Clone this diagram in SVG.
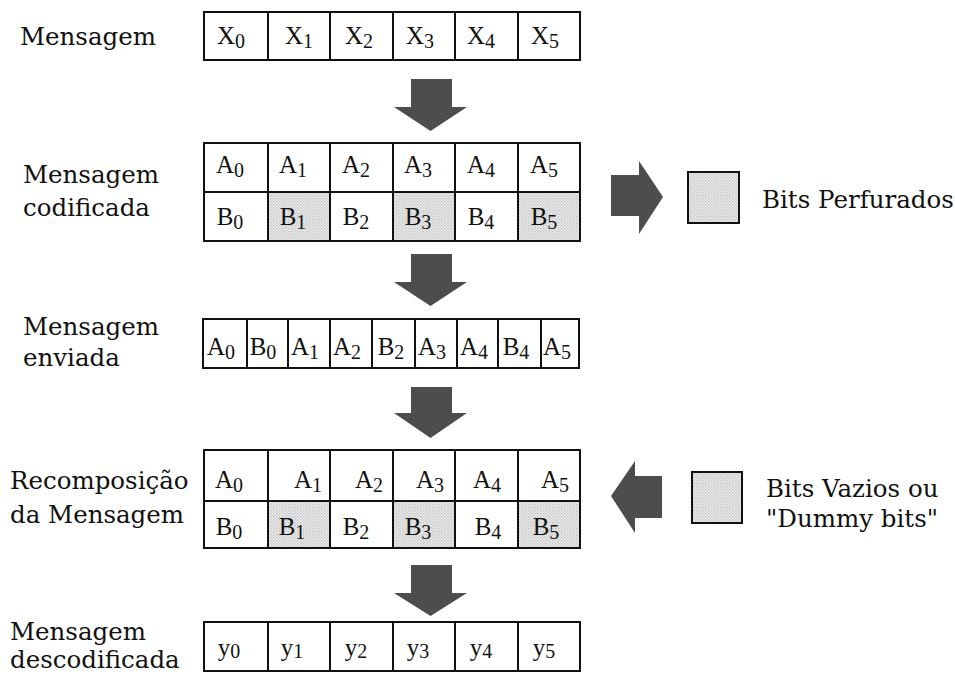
<svg xmlns="http://www.w3.org/2000/svg" width="955" height="675" viewBox="0 0 955 675">
<defs>
<pattern id="dots" width="3" height="3" patternUnits="userSpaceOnUse">
<rect width="3" height="3" fill="#ececec"/>
<rect width="1.5" height="1.5" fill="#c4c4c4"/>
<rect x="1.5" y="1.5" width="1.5" height="1.5" fill="#d2d2d2"/>
</pattern>
</defs>
<style>
.lbl{font-family:"DejaVu Serif","Liberation Serif",serif;font-size:24.5px;fill:#111}
.c{font-family:"Liberation Serif","Times New Roman",serif;font-size:25px;fill:#111;text-anchor:middle}
.c tspan.s{font-size:20px}
.box{fill:#fff;stroke:#111;stroke-width:2}
.ln{stroke:#111;stroke-width:2;fill:none}
.sh{fill:url(#dots)}
.arr{fill:#4d4d4d}
.leg{fill:url(#dots);stroke:#111;stroke-width:2}
</style>
<rect width="955" height="675" fill="#fff"/>

<g id="mensagem">
<text class="lbl" x="20" y="45">Mensagem</text>
<rect class="box" x="204" y="12" width="376" height="48"/>
<path class="ln" d="M268 12V60M330 12V60M393 12V60M455 12V60M518 12V60"/>
<text class="c" y="44"><tspan x="231">X</tspan><tspan class="s" dy="4">0</tspan></text>
<text class="c" y="44"><tspan x="299">X</tspan><tspan class="s" dy="4">1</tspan></text>
<text class="c" y="44"><tspan x="359">X</tspan><tspan class="s" dy="4">2</tspan></text>
<text class="c" y="44"><tspan x="420">X</tspan><tspan class="s" dy="4">3</tspan></text>
<text class="c" y="44"><tspan x="481">X</tspan><tspan class="s" dy="4">4</tspan></text>
<text class="c" y="44"><tspan x="545">X</tspan><tspan class="s" dy="4">5</tspan></text>
</g>

<g id="codificada">
<text class="lbl" x="23" y="183">Mensagem</text>
<text class="lbl" x="23" y="216">codificada</text>
<rect class="box" x="204" y="143" width="376" height="98"/>
<rect class="sh" x="268" y="192" width="62" height="49"/>
<rect class="sh" x="393" y="192" width="62" height="49"/>
<rect class="sh" x="518" y="192" width="62" height="49"/>
<rect class="ln" x="204" y="143" width="376" height="98"/>
<path class="ln" d="M204 192H580M268 143V241M330 143V241M393 143V241M455 143V241M518 143V241"/>
<text class="c" y="173"><tspan x="230">A</tspan><tspan class="s" dy="4">0</tspan></text>
<text class="c" y="173"><tspan x="293">A</tspan><tspan class="s" dy="4">1</tspan></text>
<text class="c" y="173"><tspan x="356">A</tspan><tspan class="s" dy="4">2</tspan></text>
<text class="c" y="173"><tspan x="418">A</tspan><tspan class="s" dy="4">3</tspan></text>
<text class="c" y="173"><tspan x="481">A</tspan><tspan class="s" dy="4">4</tspan></text>
<text class="c" y="173"><tspan x="544">A</tspan><tspan class="s" dy="4">5</tspan></text>
<text class="c" y="225"><tspan x="230">B</tspan><tspan class="s" dy="4">0</tspan></text>
<text class="c" y="225"><tspan x="293">B</tspan><tspan class="s" dy="4">1</tspan></text>
<text class="c" y="225"><tspan x="356">B</tspan><tspan class="s" dy="4">2</tspan></text>
<text class="c" y="225"><tspan x="418">B</tspan><tspan class="s" dy="4">3</tspan></text>
<text class="c" y="225"><tspan x="481">B</tspan><tspan class="s" dy="4">4</tspan></text>
<text class="c" y="225"><tspan x="544">B</tspan><tspan class="s" dy="4">5</tspan></text>
</g>

<g id="legenda-perfurados">
<rect class="leg" x="688" y="172" width="51" height="51"/>
<text class="lbl" x="762" y="208">Bits Perfurados</text>
</g>

<g id="enviada">
<text class="lbl" x="23" y="335">Mensagem</text>
<text class="lbl" x="23" y="366">enviada</text>
<rect class="box" x="203" y="319" width="376" height="49"/>
<path class="ln" d="M247 319V368M288 319V368M330 319V368M372 319V368M415 319V368M457 319V368M498 319V368M541 319V368"/>
<text class="c" y="355"><tspan x="221">A</tspan><tspan class="s" dy="4">0</tspan></text>
<text class="c" y="355"><tspan x="263">B</tspan><tspan class="s" dy="4">0</tspan></text>
<text class="c" y="355"><tspan x="305">A</tspan><tspan class="s" dy="4">1</tspan></text>
<text class="c" y="355"><tspan x="347">A</tspan><tspan class="s" dy="4">2</tspan></text>
<text class="c" y="355"><tspan x="391">B</tspan><tspan class="s" dy="4">2</tspan></text>
<text class="c" y="355"><tspan x="432">A</tspan><tspan class="s" dy="4">3</tspan></text>
<text class="c" y="355"><tspan x="474">A</tspan><tspan class="s" dy="4">4</tspan></text>
<text class="c" y="355"><tspan x="516">B</tspan><tspan class="s" dy="4">4</tspan></text>
<text class="c" y="355"><tspan x="557">A</tspan><tspan class="s" dy="4">5</tspan></text>
</g>

<g id="recomposicao">
<text class="lbl" x="10" y="489">Recomposição</text>
<text class="lbl" x="10" y="523">da Mensagem</text>
<rect class="box" x="204" y="450" width="376" height="98"/>
<rect class="sh" x="268" y="501" width="62" height="47"/>
<rect class="sh" x="393" y="501" width="62" height="47"/>
<rect class="sh" x="518" y="501" width="62" height="47"/>
<rect class="ln" x="204" y="450" width="376" height="98"/>
<path class="ln" d="M204 501H580M268 450V548M330 450V548M393 450V548M455 450V548M518 450V548"/>
<text class="c" y="488"><tspan x="229">A</tspan><tspan class="s" dy="4">0</tspan></text>
<text class="c" y="488"><tspan x="308">A</tspan><tspan class="s" dy="4">1</tspan></text>
<text class="c" y="488"><tspan x="369">A</tspan><tspan class="s" dy="4">2</tspan></text>
<text class="c" y="488"><tspan x="430">A</tspan><tspan class="s" dy="4">3</tspan></text>
<text class="c" y="488"><tspan x="487">A</tspan><tspan class="s" dy="4">4</tspan></text>
<text class="c" y="488"><tspan x="555">A</tspan><tspan class="s" dy="4">5</tspan></text>
<text class="c" y="535"><tspan x="229">B</tspan><tspan class="s" dy="4">0</tspan></text>
<text class="c" y="535"><tspan x="292">B</tspan><tspan class="s" dy="4">1</tspan></text>
<text class="c" y="535"><tspan x="356">B</tspan><tspan class="s" dy="4">2</tspan></text>
<text class="c" y="535"><tspan x="418">B</tspan><tspan class="s" dy="4">3</tspan></text>
<text class="c" y="535"><tspan x="488">B</tspan><tspan class="s" dy="4">4</tspan></text>
<text class="c" y="535"><tspan x="546">B</tspan><tspan class="s" dy="4">5</tspan></text>
</g>

<g id="legenda-vazios">
<rect class="leg" x="692" y="472" width="50" height="51"/>
<text class="lbl" x="766" y="497">Bits Vazios ou</text>
<text class="lbl" x="766" y="527">"Dummy bits"</text>
</g>

<g id="descodificada">
<text class="lbl" x="10" y="640">Mensagem</text>
<text class="lbl" x="10" y="668">descodificada</text>
<rect class="box" x="204" y="622" width="376" height="49"/>
<path class="ln" d="M268 622V671M330 622V671M393 622V671M455 622V671M518 622V671"/>
<text class="c" y="656"><tspan x="229">y</tspan><tspan class="s" dy="2">0</tspan></text>
<text class="c" y="656"><tspan x="292">y</tspan><tspan class="s" dy="2">1</tspan></text>
<text class="c" y="656"><tspan x="356">y</tspan><tspan class="s" dy="2">2</tspan></text>
<text class="c" y="656"><tspan x="418">y</tspan><tspan class="s" dy="2">3</tspan></text>
<text class="c" y="656"><tspan x="481">y</tspan><tspan class="s" dy="2">4</tspan></text>
<text class="c" y="656"><tspan x="544">y</tspan><tspan class="s" dy="2">5</tspan></text>
</g>

<g id="connectors">
<polygon class="arr" points="411,79 452,79 452,107 467,107 430.5,131 394,107 411,107"/>
<polygon class="arr" points="411,254 452,254 452,282 467,282 430.5,306 394,282 411,282"/>
<polygon class="arr" points="411,387 452,387 452,413 467,413 430.5,438 394,413 411,413"/>
<polygon class="arr" points="411,565 452,565 452,593 467,593 430.5,616 394,593 411,593"/>
<polygon class="arr" points="611,175 639,175 639,161 663,197 639,234 639,216 611,216"/>
<polygon class="arr" points="662,476 635,476 635,461 611,496 635,533 635,518 662,518"/>
</g>
</svg>
